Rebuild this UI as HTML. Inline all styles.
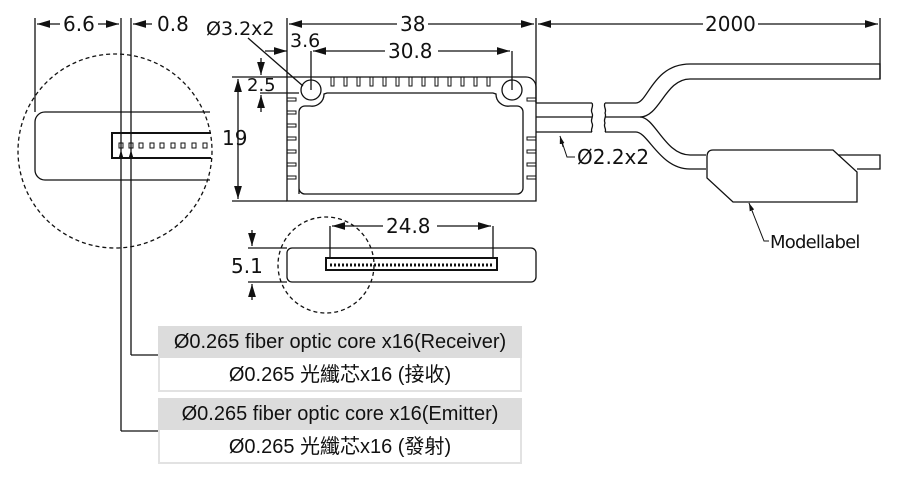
<!DOCTYPE html>
<html><head><meta charset="utf-8"><style>
body{margin:0;background:#fff;width:900px;height:491px;overflow:hidden}
svg{position:absolute;left:0;top:0}
text{font-family:"DejaVu Sans","Liberation Sans",sans-serif;fill:#111}
.b{position:absolute;left:158px;width:364px;font-family:"Liberation Sans","Noto Sans CJK TC",sans-serif;font-size:20px;color:#111;text-align:center;box-sizing:border-box}
</style></head><body>
<svg width="900" height="491" viewBox="0 0 900 491" fill="none" stroke="#111" stroke-width="1.3">
<defs><marker id="a" viewBox="0 0 10 6" refX="10" refY="3" markerWidth="10" markerHeight="6" orient="auto-start-reverse"><path d="M0,0L10,3L0,6z" fill="#111" stroke="none"/></marker></defs>
<line x1="35" y1="18" x2="35" y2="112"/>
<line x1="121" y1="18" x2="121" y2="431"/>
<line x1="131" y1="18" x2="131" y2="355"/>
<line x1="121" y1="431" x2="158" y2="431"/>
<line x1="131" y1="355" x2="158" y2="355"/>
<line x1="37" y1="24" x2="60" y2="24" marker-start="url(#a)"/>
<line x1="98" y1="24" x2="119" y2="24" marker-end="url(#a)"/>
<line x1="133" y1="24" x2="152" y2="24" marker-start="url(#a)"/>
<text x="63" y="31" font-size="20" stroke="none">6.6</text>
<text x="157" y="31" font-size="20" stroke="none">0.8</text>
<circle cx="115" cy="151" r="97" stroke-dasharray="4,3"/>
<path d="M210,112H45a10,10 0 0 0-10,10V170a10,10 0 0 0 10,10H210"/>
<path d="M211,133H112V158H211" stroke-width="2"/>
<g stroke-width="1">
<rect x="119" y="143" width="4" height="5"/><rect x="129" y="143" width="4" height="5"/><rect x="139" y="143" width="4" height="5"/><rect x="150" y="143" width="4" height="5"/><rect x="160" y="143" width="4" height="5"/><rect x="171" y="143" width="4" height="5"/><rect x="181" y="143" width="4" height="5"/><rect x="192" y="143" width="4" height="5"/><rect x="203" y="143" width="4" height="5"/>
</g>
<line x1="121" y1="160" x2="121" y2="150" marker-end="url(#a)" stroke-width="0.8"/>
<line x1="131" y1="160" x2="131" y2="150" marker-end="url(#a)" stroke-width="0.8"/>
<text x="206" y="35" font-size="19" stroke="none">Ø3.2x2</text>
<line x1="248" y1="38" x2="303" y2="86"/>
<line x1="287" y1="18" x2="287" y2="77"/>
<line x1="536" y1="18" x2="536" y2="103"/>
<line x1="880" y1="18" x2="880" y2="79"/>
<line x1="289" y1="24" x2="397" y2="24" marker-start="url(#a)"/>
<line x1="428" y1="24" x2="534" y2="24" marker-end="url(#a)"/>
<text x="400" y="31" font-size="20" stroke="none">38</text>
<line x1="538" y1="24" x2="703" y2="24" marker-start="url(#a)"/>
<line x1="758" y1="24" x2="878" y2="24" marker-end="url(#a)"/>
<text x="705" y="31" font-size="20" stroke="none">2000</text>
<line x1="265" y1="51" x2="287" y2="51" marker-end="url(#a)"/>
<text x="290" y="47" font-size="19" stroke="none">3.6</text>
<line x1="311" y1="51" x2="311" y2="90"/>
<line x1="512" y1="51" x2="512" y2="90"/>
<line x1="313" y1="51" x2="385" y2="51" marker-start="url(#a)"/>
<line x1="438" y1="51" x2="510" y2="51" marker-end="url(#a)"/>
<text x="388" y="58" font-size="20" stroke="none">30.8</text>
<line x1="232" y1="77" x2="287" y2="77"/>
<line x1="232" y1="201" x2="287" y2="201"/>
<line x1="238" y1="79" x2="238" y2="199" marker-start="url(#a)" marker-end="url(#a)"/>
<text x="222" y="145" font-size="20" stroke="none">19</text>
<line x1="260" y1="93" x2="299" y2="93"/>
<line x1="261" y1="58" x2="261" y2="75" marker-end="url(#a)"/>
<line x1="261" y1="112" x2="261" y2="95" marker-end="url(#a)"/>
<text x="247" y="91" font-size="18" stroke="none">2.5</text>
<path d="M287,77H526a10,10 0 0 1 10,10V201H287Z"/>
<path d="M299,194V112a6,6 0 0 1 6,-6H310a12,12 0 0 0 14,-12l3,-1H493l3,1a12,12 0 0 0 14,12H517a6,6 0 0 1 6,6V188a6,6 0 0 1-6,6H305a6,6 0 0 1-6,-6Z"/>
<circle cx="311" cy="90" r="10"/><circle cx="512" cy="90" r="10"/>
<g stroke-width="1">
<path d="M331,77v9h3v-9M344,77v9h3v-9M357,77v9h3v-9M370,77v9h3v-9M383,77v9h3v-9M396,77v9h3v-9M409,77v9h3v-9M422,77v9h3v-9M435,77v9h3v-9M448,77v9h3v-9M461,77v9h3v-9M474,77v9h3v-9M487,77v9h3v-9"/>
<path d="M287,98h9v3h-9M287,111h9v3h-9M287,124h9v3h-9M287,137h9v3h-9M287,150h9v3h-9M287,163h9v3h-9M287,176h9v3h-9"/>
<path d="M536,98h-9v3h9M536,137h-9v3h9M536,150h-9v3h9M536,163h-9v3h9M536,176h-9v3h9"/>
</g>
<path d="M536,103H592M536,117H592M536,132H592"/>
<path d="M592,103c2,4 -2,6 0,10c2,4 -2,6 0,10c2,4-2,6 0,9"/>
<path d="M605,103c-2,4 2,6 0,10c2,4 -2,6 0,10c-2,4 2,6 0,9"/>
<path d="M605,103H636C648,103 653,64 690,64H880V79H690C665,79 660,117 640,117H605"/>
<path d="M640,117C655,117 665,155 690,155H706M605,132H636C648,132 660,169 690,169H706"/>
<path d="M713,150H833L857,172V202H733L707,178V157Q707,150 713,150Z"/>
<path d="M838,155H880V169H857"/>
<path d="M560,136L567,157H575" stroke-width="1"/>
<line x1="563" y1="147" x2="560" y2="136" marker-end="url(#a)" stroke-width="0.8"/>
<text x="577" y="164" font-size="20" stroke="none">Ø2.2x2</text>
<path d="M749,203L764,241H769" stroke-width="1"/>
<line x1="753" y1="213" x2="749" y2="203" marker-end="url(#a)" stroke-width="0.8"/>
<text x="770" y="248" font-size="18" stroke="none" letter-spacing="-0.8">Modellabel</text>
<rect x="287" y="248" width="249" height="34" rx="5"/>
<rect x="326" y="258" width="171" height="12" stroke-width="2"/>
<line x1="330" y1="265" x2="493" y2="265" stroke-width="3" stroke-dasharray="2,2"/>
<circle cx="326" cy="265" r="48" stroke-dasharray="4,3"/>
<line x1="330" y1="226" x2="330" y2="258"/>
<line x1="493" y1="226" x2="493" y2="258"/>
<line x1="332" y1="226" x2="383" y2="226" marker-start="url(#a)"/>
<line x1="437" y1="226" x2="491" y2="226" marker-end="url(#a)"/>
<text x="386" y="233" font-size="20" stroke="none">24.8</text>
<line x1="248" y1="248" x2="287" y2="248"/>
<line x1="248" y1="282" x2="287" y2="282"/>
<line x1="252" y1="230" x2="252" y2="246" marker-end="url(#a)"/>
<line x1="252" y1="300" x2="252" y2="284" marker-end="url(#a)"/>
<text x="231" y="273" font-size="20" stroke="none">5.1</text>
</svg>
<div class="b" style="top:326px;height:32px;line-height:32px;background:#dcdcdc">Ø0.265 fiber optic core x16(Receiver)</div>
<div class="b" style="top:358px;height:34px;line-height:34px;border:2px solid #e2e2e2;border-top:none">Ø0.265 光纖芯x16 (接收)</div>
<div class="b" style="top:398px;height:32px;line-height:32px;background:#dcdcdc">Ø0.265 fiber optic core x16(Emitter)</div>
<div class="b" style="top:430px;height:34px;line-height:34px;border:2px solid #e2e2e2;border-top:none">Ø0.265 光纖芯x16 (發射)</div>
</body></html>
